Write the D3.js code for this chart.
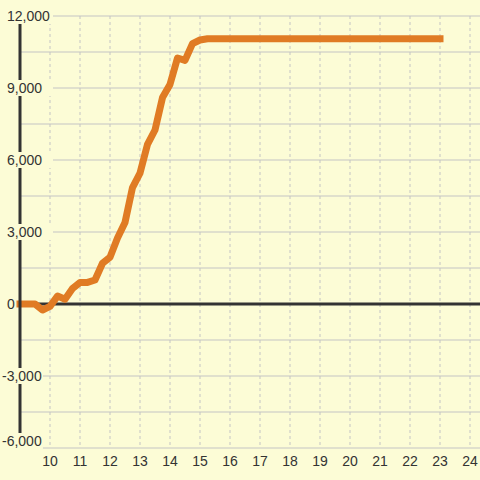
<!DOCTYPE html>
<html>
<head>
<meta charset="utf-8">
<script src="https://cdn.jsdelivr.net/npm/d3@7"></script>
<style>
  html, body { margin: 0; padding: 0; background: #fcfcd6; }
  svg { display: block; }
  text { font-family: "Liberation Sans", Arial, sans-serif; font-size: 14px; fill: #333; }
</style>
</head>
<body>
<div id="chart-area"></div>
<script>
// data
var xValues = [9, 9.25, 9.5, 9.75, 10, 10.25, 10.5, 10.75, 11, 11.25, 11.5, 11.75,
    12, 12.25, 12.5, 12.75, 13, 13.25, 13.5, 13.75, 14, 14.25, 14.5, 14.75,
    15, 15.25, 15.5, 16, 17, 18, 19, 20, 21, 22, 23];
var yValues = [0, 0, 0, -250, -100, 330, 200, 650, 900, 900, 1000, 1700,
    1950, 2750, 3400, 4850, 5450, 6650, 7250, 8600, 9150, 10250, 10150, 10850,
    11000, 11050, 11050, 11050, 11050, 11050, 11050, 11050, 11050, 11050, 11050];
var yTicks = [12000, 9000, 6000, 3000, 0, -3000, -6000];
var yMinorTicks = [10500, 7500, 4500, 1500, -1500, -4500];
var xTicks = [10, 11, 12, 13, 14, 15, 16, 17, 18, 19, 20, 21, 22, 23, 24];

var data = xValues.map(function(d, i) { return { x: d, y: yValues[i] }; });

var width = 480, height = 480;

var svg = d3.select("#chart-area").append("svg")
    .attr("width", width)
    .attr("height", height);

svg.append("rect")
    .attr("width", width)
    .attr("height", height)
    .attr("fill", "#fcfcd6");

// scales
var x = d3.scaleLinear().domain([9, 24]).range([20, 470]);
var y = d3.scaleLinear().domain([-6000, 12000]).range([448, 16]);

var fmt = d3.format(",");

// horizontal grid
svg.append("g")
    .selectAll("line")
    .data(yTicks.concat(yMinorTicks))
    .enter().append("line")
    .attr("x1", x(9))
    .attr("x2", width)
    .attr("y1", d => y(d))
    .attr("y2", d => y(d))
    .attr("stroke", "#c4c4c4")
    .attr("stroke-width", 1.2);

// vertical dashed grid
svg.append("g")
    .selectAll("line")
    .data(xTicks)
    .enter().append("line")
    .attr("x1", d => x(d))
    .attr("x2", d => x(d))
    .attr("y1", y(12000))
    .attr("y2", y(-6000) - 2)
    .attr("stroke", "#c4c4c4")
    .attr("stroke-width", 1)
    .attr("stroke-dasharray", "3,3");

// zero line
svg.append("line")
    .attr("x1", x(9))
    .attr("x2", width)
    .attr("y1", y(0))
    .attr("y2", y(0))
    .attr("stroke", "#333")
    .attr("stroke-width", 3);

// the series
var line = d3.line()
    .x(d => x(d.x))
    .y(d => y(d.y));

svg.append("path")
    .datum(data)
    .attr("d", line)
    .attr("fill", "none")
    .attr("stroke", "#e07b24")
    .attr("stroke-width", 7)
    .attr("stroke-linejoin", "round")
    .attr("stroke-linecap", "square");

// y axis line
svg.append("line")
    .attr("x1", x(9))
    .attr("x2", x(9))
    .attr("y1", y(12000))
    .attr("y2", y(-6000))
    .attr("stroke", "#333")
    .attr("stroke-width", 3);

// y labels with background (bottom one kept inside the plot)
var labelY = d => Math.min(y(d), 441);

var yLab = svg.append("g")
    .selectAll("g")
    .data(yTicks)
    .enter().append("g");

yLab.append("rect").attr("fill", "#fcfcd6");

yLab.append("text")
    .attr("x", d => d < 0 ? 2 : 7)
    .attr("y", labelY)
    .attr("dy", "0.36em")
    .text(d => fmt(d).replace("−", "-"));

yLab.each(function(d) {
    var b = d3.select(this).select("text").node().getBBox();
    var right = d > 0 ? 53 : b.x + b.width + 1;
    d3.select(this).select("rect")
        .attr("x", b.x - 2)
        .attr("y", labelY(d) - 8)
        .attr("width", right - b.x + 2)
        .attr("height", 16);
});

// x labels
svg.append("g")
    .selectAll("text")
    .data(xTicks)
    .enter().append("text")
    .attr("x", d => x(d))
    .attr("y", 466)
    .attr("text-anchor", "middle")
    .text(d => d);
</script>
</body>
</html>
